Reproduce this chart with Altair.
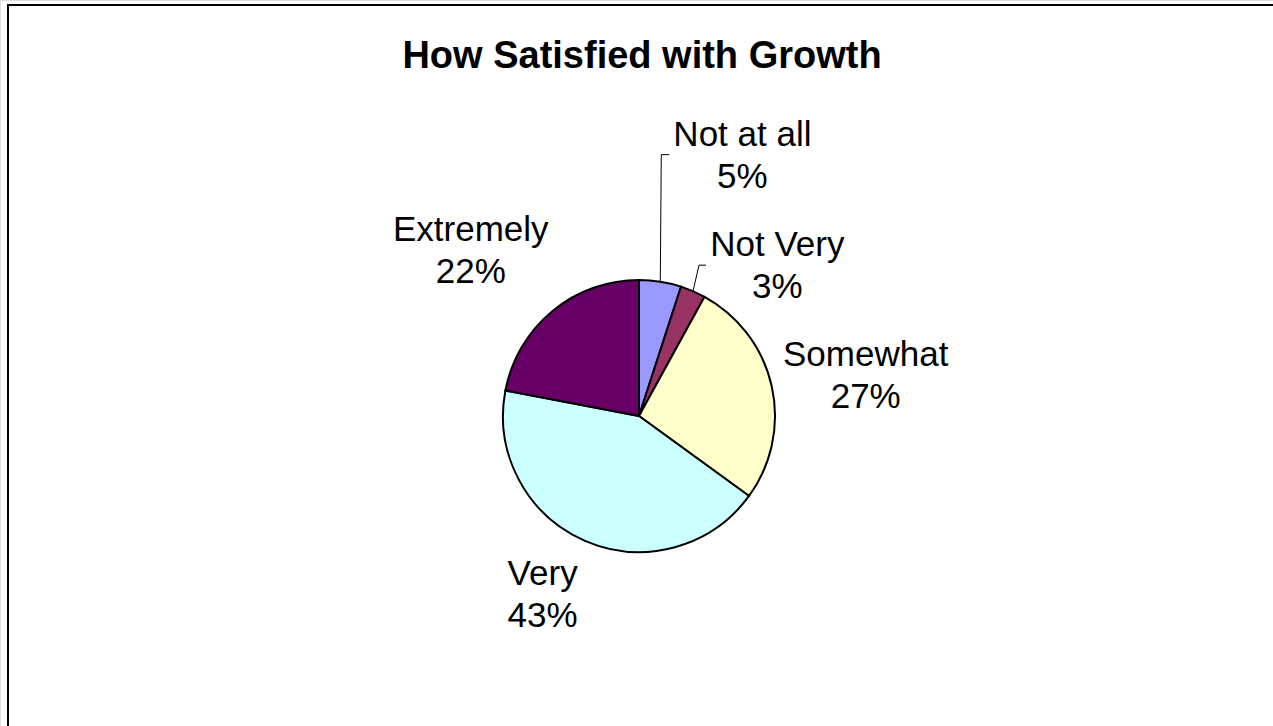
import math
import altair as alt
import pandas as pd

# ---- data ----
categories = ["Not at all", "Not Very", "Somewhat", "Very", "Extremely"]
values = [5, 3, 27, 43, 22]
colors = ["#9999FF", "#993366", "#FFFFCC", "#CCFFFF", "#660066"]
title_text = "How Satisfied with Growth"

# ---- layout / style ----
W, H = 1273, 726
CX, CY = 639, 416
R = 136
LABEL_R = 220
FONT = "Liberation Sans"
LABEL_NUDGE = {
    "Not at all": (69, -64),
    "Not Very": (51, 31),
    "Somewhat": (12, -13),
    "Very": (-9, -44),
    "Extremely": (-28, -16),
}
LEADERS = {  # elbow offset from slice edge, horizontal tick length
    "Not at all": (1, -127, 8),
    "Not Very": (6, -26, 7),
}

total = sum(values)
rows = []
cum = 0
for i, (c, v) in enumerate(zip(categories, values)):
    rows.append({
        "idx": i,
        "category": c,
        "value": v,
        "start": cum,
        "end": cum + v,
        "mid": cum + v / 2,
        "label": f"{c}\n{round(100 * v / total)}%",
    })
    cum += v
df = pd.DataFrame(rows)

theta_scale = alt.Scale(domain=[0, total], range=[0, 2 * math.pi])
color_scale = alt.Scale(domain=categories, range=colors)

arcs = alt.Chart(df).mark_arc(radius=R, stroke="black", strokeWidth=2).encode(
    theta=alt.Theta("start:Q", scale=theta_scale),
    theta2="end:Q",
    color=alt.Color("category:N", scale=color_scale, legend=None),
    x=alt.value(CX),
    y=alt.value(CY),
)

text_layers = []
for c in categories:
    dx, dy = LABEL_NUDGE[c]
    t = alt.Chart(df).transform_filter(
        alt.FieldEqualPredicate(field="category", equal=c)
    ).mark_text(
        font=FONT, fontSize=35, lineBreak="\n", lineHeight=42,
        align="center", baseline="middle", color="black", dx=dx, dy=dy,
    ).encode(
        theta=alt.Theta("mid:Q", scale=theta_scale),
        radius=alt.value(LABEL_R),
        x=alt.value(CX),
        y=alt.value(CY),
        text="label:N",
    )
    text_layers.append(t)

# leader lines computed from slice mid-angles
lrows = []
for r in rows:
    if r["category"] in LEADERS:
        ex, ey, tick = LEADERS[r["category"]]
        a = 2 * math.pi * r["mid"] / total
        x0 = CX + R * math.sin(a)
        y0 = CY - R * math.cos(a)
        pts = [(x0, y0), (x0 + ex, y0 + ey), (x0 + ex + tick, y0 + ey)]
        for k, (px, py) in enumerate(pts):
            lrows.append({"category": r["category"], "pt": k, "lx": px, "ly": py})
ldf = pd.DataFrame(lrows)

leaders = alt.Chart(ldf).mark_line(color="black", strokeWidth=1).encode(
    x=alt.X("lx:Q", scale=None, axis=None),
    y=alt.Y("ly:Q", scale=None, axis=None),
    detail="category:N",
    order="pt:Q",
)

frame = alt.Chart(pd.DataFrame({"a": [0]})).mark_rect(
    fill=None, stroke="black", strokeWidth=2
).encode(
    x=alt.value(8), y=alt.value(5), x2=alt.value(1300), y2=alt.value(760)
)

title = alt.Chart(pd.DataFrame({"t": [title_text]})).mark_text(
    font=FONT, fontSize=38, fontWeight="bold", align="center",
    baseline="middle", color="black",
).encode(x=alt.value(642), y=alt.value(57), text="t:N")

chart = alt.layer(frame, arcs, leaders, *text_layers, title).properties(
    width=W, height=H, padding=0, autosize=alt.AutoSizeParams(type="none")
).configure_view(stroke=None).configure(background="white")

chart.save("out.html", embed_options={"renderer": "svg", "actions": False})
